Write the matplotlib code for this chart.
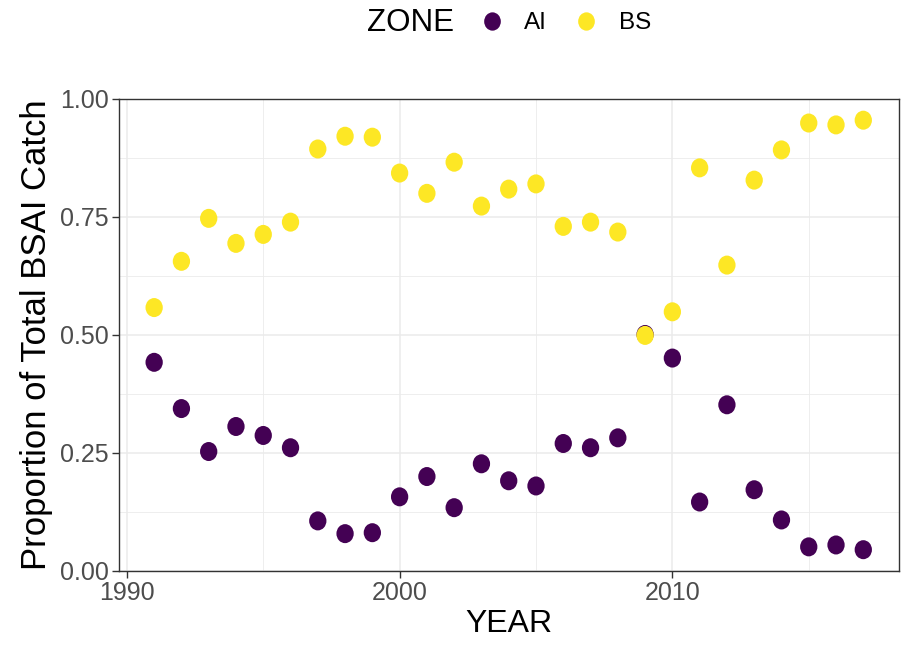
import matplotlib
matplotlib.use("Agg")
import matplotlib.pyplot as plt
from matplotlib.ticker import MultipleLocator, FormatStrFormatter
from matplotlib.lines import Line2D
from matplotlib.markers import MarkerStyle
from matplotlib.transforms import Affine2D

plt.rcParams['font.family'] = ['Liberation Sans', 'DejaVu Sans']

years = [1991, 1992, 1993, 1994, 1995, 1996, 1997, 1998, 1999, 2000,
         2001, 2002, 2003, 2004, 2005, 2006, 2007, 2008, 2009, 2010,
         2011, 2012, 2013, 2014, 2015, 2016, 2017]

# share of catch by zone
ai = [0.442, 0.344, 0.253, 0.306, 0.287, 0.261, 0.106, 0.079, 0.081, 0.157,
      0.200, 0.134, 0.227, 0.191, 0.180, 0.270, 0.261, 0.282, 0.501, 0.451,
      0.146, 0.352, 0.172, 0.108, 0.051, 0.055, 0.045]
bs = [0.558, 0.656, 0.747, 0.694, 0.713, 0.739, 0.894, 0.921, 0.919, 0.843,
      0.800, 0.866, 0.773, 0.809, 0.820, 0.730, 0.739, 0.718, 0.499, 0.549,
      0.854, 0.648, 0.828, 0.892, 0.949, 0.945, 0.955]

zones = ["AI", "BS"]
colors = {"AI": "#440154", "BS": "#FDE725"}

# slightly tall dots
dot = MarkerStyle("o", transform=Affine2D().scale(1.0, 1.1))

fig = plt.figure(figsize=(9.06, 6.51), dpi=100)
ax = fig.add_axes([0.131, 0.123, 0.861, 0.725])

for z, vals in zip(zones, [ai, bs]):
    ax.scatter(years, vals, s=155, marker=dot, color=colors[z], edgecolors="none",
               zorder=3, clip_on=False)

ax.set_xlim(1989.7, 2018.3)
ax.set_ylim(0, 1)
ax.xaxis.set_major_locator(MultipleLocator(10))
ax.xaxis.set_minor_locator(MultipleLocator(5))
ax.yaxis.set_major_locator(MultipleLocator(0.25))
ax.yaxis.set_minor_locator(MultipleLocator(0.125))
ax.yaxis.set_major_formatter(FormatStrFormatter("%.2f"))

ax.grid(which="major", color="#EBEBEB", lw=1.1, zorder=0)
ax.grid(which="minor", color="#EBEBEB", lw=0.6, zorder=0)
ax.set_axisbelow(True)
for sp in ax.spines.values():
    sp.set_color("#333333")
    sp.set_linewidth(1.0)
ax.tick_params(which="major", length=5, width=1.0, color="#333333",
               labelsize=18, labelcolor="#4D4D4D", pad=2)
ax.tick_params(which="minor", length=0)

ax.set_xlabel("YEAR", fontsize=23, labelpad=3)
ax.set_ylabel("Proportion of Total BSAI Catch", fontsize=25, labelpad=5)

# legend across the top
fig.text(367 / 906, 1 - 23 / 651, "ZONE", fontsize=22.5, va="center", ha="left")
handles = [Line2D([], [], ls="none", marker=dot, markersize=12,
                  markerfacecolor=colors[z], markeredgecolor="none") for z in zones]
fig.legend(handles, zones, loc="center left", bbox_to_anchor=(477 / 906, 1 - 23 / 651),
           ncol=2, frameon=False, fontsize=17.5, handletextpad=0.75,
           columnspacing=1.0, handlelength=1.2, borderaxespad=0, borderpad=0)

fig.savefig("out.png", dpi=100)
